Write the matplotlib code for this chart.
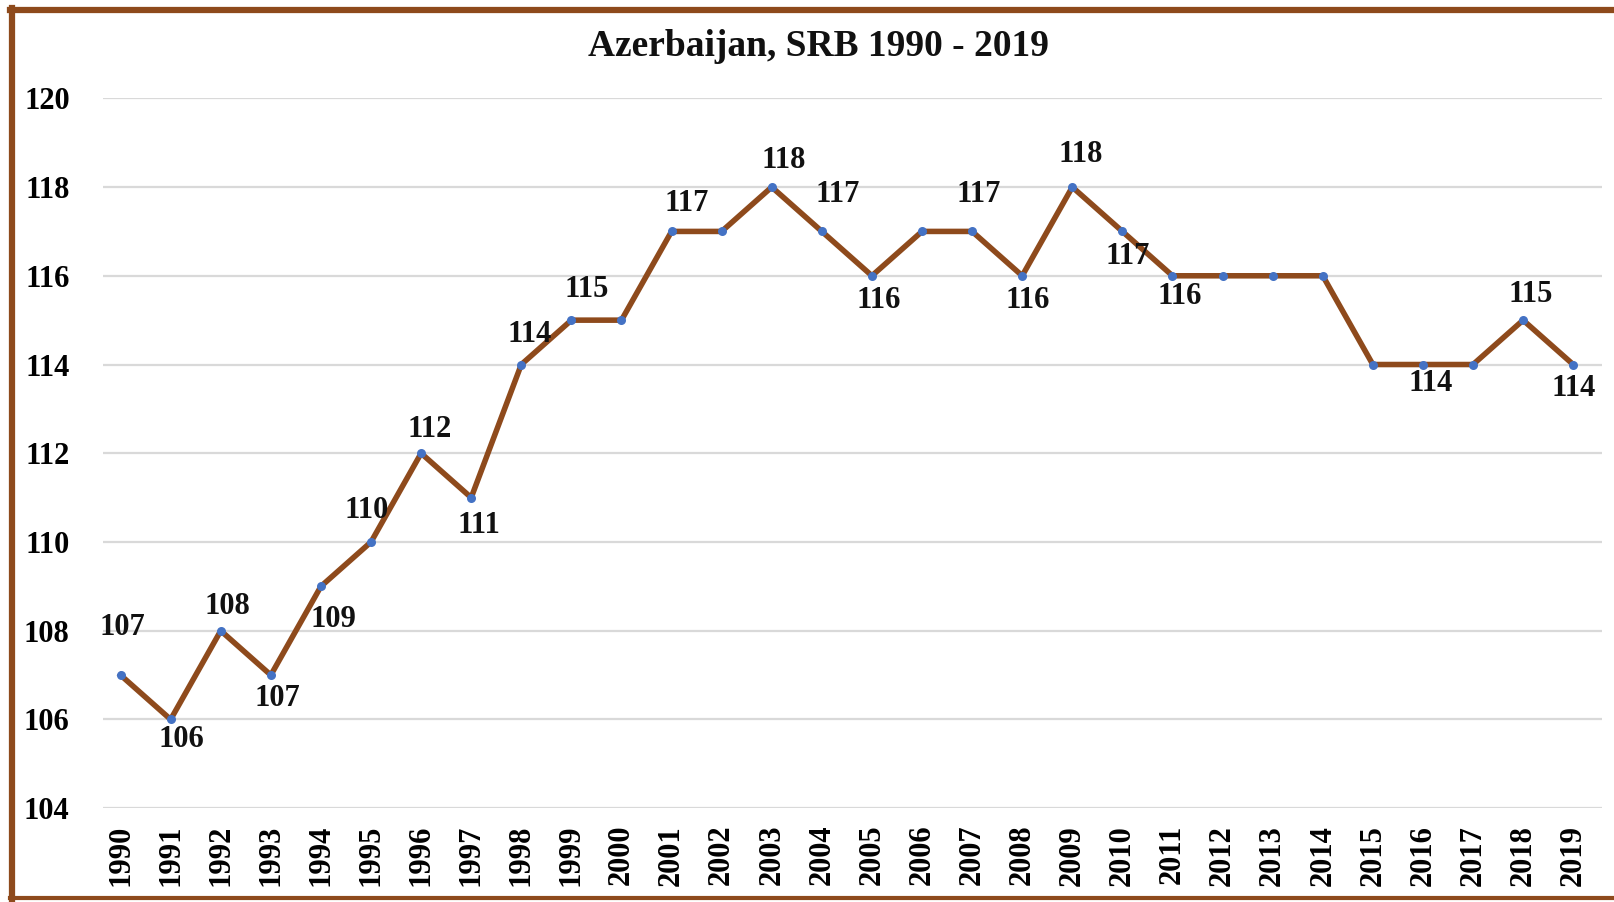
import matplotlib
matplotlib.use("Agg")
import matplotlib.pyplot as plt
from matplotlib.lines import Line2D

plt.rcParams['font.family'] = ['Liberation Serif', 'DejaVu Serif']
plt.rcParams['font.weight'] = 'bold'

years = list(range(1990, 2020))
srb = [107, 106, 108, 107, 109, 110, 112, 111, 114, 115,
       115, 117, 117, 118, 117, 116, 117, 117, 116, 118,
       117, 116, 116, 116, 116, 114, 114, 114, 115, 114]

# which points get a label, and where (offset in pixels from the marker)
label_years = [1990, 1991, 1992, 1993, 1994, 1995, 1996, 1997, 1998, 1999,
               2001, 2003, 2004, 2005, 2007, 2008, 2009, 2010, 2011, 2016,
               2018, 2019]
label_offsets = [(2, 48), (11, -20), (7, 24), (7, -23), (13, -33), (-4, 31),
                 (9, 24), (8, -28), (8, 30), (15, 31), (15, 28), (12, 27),
                 (16, 37), (7, -25), (7, 37), (5, -25), (8, 33), (5, -25),
                 (7, -21), (8, -19), (8, 26), (0, -24)]

brown = '#8E4A1C'

fig = plt.figure(figsize=(16.15, 9.02), dpi=100)
ax = fig.add_axes([0.0638, 0.104, 0.928, 0.787])

x = list(range(len(years)))
ax.plot(x, srb, color=brown, lw=4, zorder=3)
ax.plot(x, srb, 'o', color='#4472C4', ms=6.5, mec='none', zorder=4)

for yr, (dx, dy) in zip(label_years, label_offsets):
    i = years.index(yr)
    ax.annotate(str(srb[i]), (i, srb[i]), xytext=(dx, dy),
                textcoords='offset pixels', ha='center', va='center',
                fontsize=22, fontweight='bold', color='#111111', zorder=5)

ax.set_ylim(104, 120)
ax.set_yticks(range(104, 121, 2))
ax.set_xlim(-0.35, 29.57)
ax.set_xticks(x)
ax.set_xticklabels([str(y) for y in years], rotation=90)
ax.tick_params(axis='y', length=0, pad=24, labelsize=22)
ax.tick_params(axis='x', length=0, pad=12, labelsize=22)
ax.grid(axis='y', color='#d9d9d9', lw=1.6)
ax.set_axisbelow(True)
for s in ax.spines.values():
    s.set_visible(False)

fig.text(0.507, 0.949, 'Azerbaijan, SRB 1990 - 2019', ha='center', va='center',
         fontsize=27, fontweight='bold', color='#111111')

# brown frame (top, left, bottom; right side is cut off)
fig.add_artist(Line2D([0.006, 1.0], [0.9885, 0.9885], color=brown, lw=4.5,
                      transform=fig.transFigure))
fig.add_artist(Line2D([0.0075, 0.0075], [0.0035, 0.991], color=brown, lw=4.5,
                      transform=fig.transFigure))
fig.add_artist(Line2D([0.006, 1.0], [0.004, 0.004], color=brown, lw=3,
                      transform=fig.transFigure))

fig.savefig('out.png', dpi=100)
